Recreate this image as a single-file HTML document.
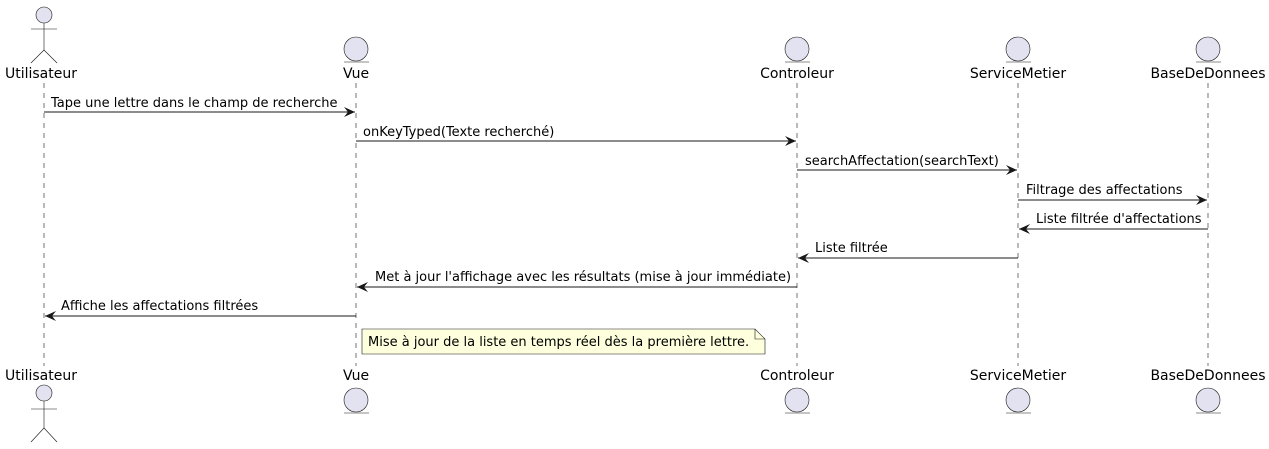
<!DOCTYPE html>
<html><head><meta charset="utf-8"><style>
html,body{margin:0;padding:0;background:#fff;}
svg{display:block;}
text{font-family:"DejaVu Sans","Liberation Sans",sans-serif;font-size:13px;fill:#000;}
.lbl{font-size:14px;}
</style></head><body>
<svg width="1269" height="449" viewBox="0 0 1269 449" xmlns="http://www.w3.org/2000/svg">
<defs>
<marker id="ah" markerWidth="12" markerHeight="10" refX="11" refY="5" orient="auto" markerUnits="userSpaceOnUse">
<path d="M0,0 L11,5 L0,10 L4,5 Z" fill="#181818"/>
</marker>
</defs>
<g stroke="#181818" stroke-width="0.6" stroke-dasharray="5,5">
<line x1="44" y1="83" x2="44" y2="366"/>
<line x1="356" y1="83" x2="356" y2="366"/>
<line x1="797" y1="83" x2="797" y2="366"/>
<line x1="1018" y1="83" x2="1018" y2="366"/>
<line x1="1208" y1="83" x2="1208" y2="366"/>
</g>
<!-- top actor -->
<g stroke="#181818" stroke-width="0.6" fill="#E2E2F0">
<circle cx="44" cy="15" r="8"/>
<line x1="44" y1="23" x2="44" y2="50"/>
<line x1="31" y1="29" x2="57" y2="29"/>
<line x1="44" y1="50" x2="31" y2="63"/>
<line x1="44" y1="50" x2="57" y2="63"/>
<circle cx="44" cy="393" r="8"/>
<line x1="44" y1="401" x2="44" y2="428"/>
<line x1="31" y1="409" x2="57" y2="409"/>
<line x1="44" y1="428" x2="31" y2="442"/>
<line x1="44" y1="428" x2="57" y2="442"/>
</g>
<g stroke="#181818" stroke-width="0.6" fill="#E2E2F0">
<circle cx="356" cy="49" r="12"/><line x1="344" y1="62" x2="369" y2="62"/>
<circle cx="797" cy="49" r="12"/><line x1="785" y1="62" x2="810" y2="62"/>
<circle cx="1018" cy="49" r="12"/><line x1="1006" y1="62" x2="1031" y2="62"/>
<circle cx="1208" cy="49" r="12"/><line x1="1196" y1="62" x2="1221" y2="62"/>
<circle cx="356" cy="400" r="12"/><line x1="344" y1="413" x2="369" y2="413"/>
<circle cx="797" cy="400" r="12"/><line x1="785" y1="413" x2="810" y2="413"/>
<circle cx="1018" cy="400" r="12"/><line x1="1006" y1="413" x2="1031" y2="413"/>
<circle cx="1208" cy="400" r="12"/><line x1="1196" y1="413" x2="1221" y2="413"/>
</g>
<g class="lbl" text-anchor="middle">
<text class="lbl" x="41" y="78">Utilisateur</text>
<text class="lbl" x="356" y="78">Vue</text>
<text class="lbl" x="797" y="78">Controleur</text>
<text class="lbl" x="1018" y="78">ServiceMetier</text>
<text class="lbl" x="1208" y="78">BaseDeDonnees</text>
<text class="lbl" x="41" y="380">Utilisateur</text>
<text class="lbl" x="356" y="380">Vue</text>
<text class="lbl" x="797" y="380">Controleur</text>
<text class="lbl" x="1018" y="380">ServiceMetier</text>
<text class="lbl" x="1208" y="380">BaseDeDonnees</text>
</g>
<g stroke="#181818" stroke-width="1" marker-end="url(#ah)">
<line x1="44" y1="112" x2="355" y2="112"/>
<line x1="356" y1="141" x2="796" y2="141"/>
<line x1="797" y1="170" x2="1017" y2="170"/>
<line x1="1018" y1="200" x2="1207" y2="200"/>
<line x1="1208" y1="229" x2="1019" y2="229"/>
<line x1="1018" y1="258" x2="798" y2="258"/>
<line x1="797" y1="287" x2="357" y2="287"/>
<line x1="356" y1="316" x2="45" y2="316"/>
</g>
<text x="51" y="107">Tape une lettre dans le champ de recherche</text>
<text x="363" y="136">onKeyTyped(Texte recherché)</text>
<text x="805" y="165">searchAffectation(searchText)</text>
<text x="1026" y="194">Filtrage des affectations</text>
<text x="1036" y="223">Liste filtrée d'affectations</text>
<text x="815" y="252">Liste filtrée</text>
<text x="375" y="281">Met à jour l'affichage avec les résultats (mise à jour immédiate)</text>
<text x="61" y="310">Affiche les affectations filtrées</text>
<path d="M362,329 L755,329 L765,339 L765,354 L362,354 Z" fill="#FEFFDD" stroke="#181818" stroke-width="0.6"/>
<path d="M755,329 L755,339 L765,339" fill="none" stroke="#181818" stroke-width="0.6"/>
<text x="368" y="346">Mise à jour de la liste en temps réel dès la première lettre.</text>
</svg>
</body></html>
